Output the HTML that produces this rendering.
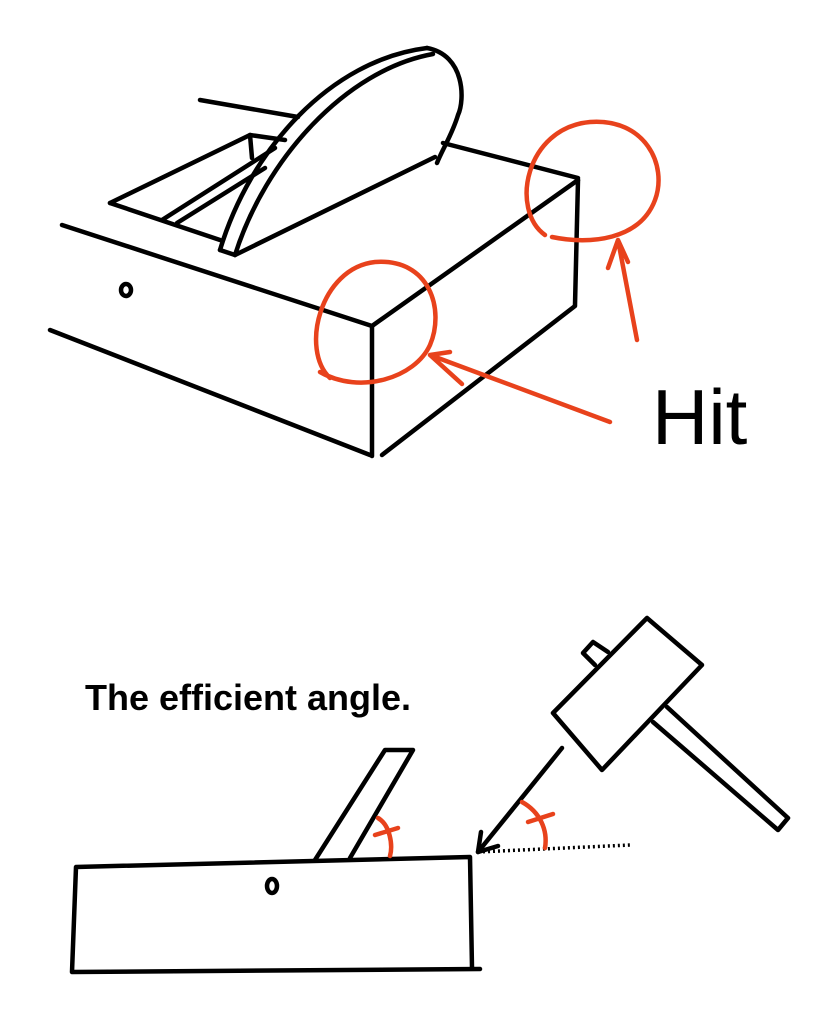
<!DOCTYPE html>
<html><head><meta charset="utf-8"><style>
html,body{margin:0;padding:0;background:#fff;}
svg{display:block;}
text{font-family:"Liberation Sans",sans-serif;}
</style></head><body>
<svg width="826" height="1024" viewBox="0 0 826 1024" xmlns="http://www.w3.org/2000/svg">
<g fill="none" stroke="#000" stroke-width="4.5" stroke-linecap="round" stroke-linejoin="round">
  <!-- top figure -->
  <path d="M200,100 L298,117"/>
  <!-- opening -->
  <path d="M110,203 L250,135 L285,140"/>
  <path d="M250,135 L252,158"/>
  <path d="M110,203 L220,240"/>
  <path d="M162,220 L275,148"/>
  <path d="M177,223 L265,168"/>
  <!-- blade -->
  <path d="M220,250 C250,150 330,60 427,48"/>
  <path d="M235,255 C265,160 345,70 433,54"/>
  <path d="M220,250 L235,255"/>
  <path d="M427,48 C465,55 465,100 458,115 C452,135 442,150 437,163"/>
  <path d="M235,255 L435,157"/>
  <path d="M443,143 L578,178"/>
  <path d="M62,225 L372,326 L578,180"/>
  <path d="M578,180 L575,305"/>
  <path d="M382,455 L575,306"/>
  <path d="M372,326 L372,456"/>
  <path d="M50,330 L370,455"/>
  <ellipse cx="126" cy="290" rx="5" ry="6"/>
  <!-- bottom figure -->
  <path d="M76,867 L470,857 M76,867 L72,972 M72,972 L480,969 M470,857 L472,968"/>
  <path d="M315,860 L385,750 L413,750 L350,858"/>
  <ellipse cx="272" cy="886" rx="5" ry="7"/>
  <path d="M553,713 L647,618 L702,665 L602,770 Z"/>
  <path d="M583,653 L593,642 L608,652 M583,653 L595,665"/>
  <path d="M667,707 L788,818 L778,830 L653,722"/>
  <path d="M562,748 L478,852"/>
  <path d="M478,852 L481,832 M478,852 L498,846"/>
</g>
<path d="M478,852 L630,845" stroke="#000" stroke-width="3.5" stroke-dasharray="2,3" fill="none"/>
<g fill="none" stroke="#e8421c" stroke-width="4.5" stroke-linecap="round" stroke-linejoin="round">
  <path d="M330,378 C300,350 320,268 375,262 C430,258 445,310 430,345 C415,378 360,395 320,372"/>
  <path d="M545,235 C510,210 525,128 590,122 C645,118 668,165 655,200 C640,240 590,245 552,237"/>
  <path d="M610,422 L430,355 M430,355 L450,352 M430,355 L462,384"/>
  <path d="M637,340 L618,240 M618,240 L608,268 M618,240 L628,262"/>
  <path d="M378,818 C390,825 393,845 390,856 M375,835 L398,828"/>
  <path d="M522,802 C540,812 548,830 545,848 M528,822 L553,814"/>
</g>
<text x="652" y="444" font-size="78" fill="#000">Hit</text>
<text x="85" y="710" font-size="36" font-weight="bold" fill="#000">The efficient angle.</text>
</svg>
</body></html>
